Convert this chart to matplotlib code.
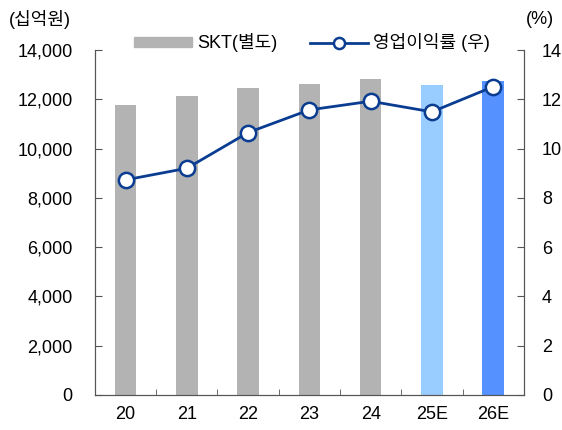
import matplotlib.pyplot as plt
from matplotlib.patches import Patch
from matplotlib.lines import Line2D

plt.rcParams['font.family'] = ['Liberation Sans', 'Noto Sans CJK KR']

years = ["20", "21", "22", "23", "24", "25E", "26E"]
sales = [11770, 12130, 12460, 12620, 12810, 12580, 12740]
margin = [8.73, 9.20, 10.65, 11.57, 11.92, 11.49, 12.51]
bar_colors = ["#b3b3b3"] * 5 + ["#99ccff", "#5592ff"]

fig = plt.figure(figsize=(5.62, 4.30), dpi=100)
ax = fig.add_axes([0.169, 0.0814, 0.763, 0.8023])
ax2 = ax.twinx()

x = range(len(years))
ax.bar(x, sales, width=0.35, color=bar_colors, zorder=2)
ax2.plot(x, margin, color="#0a3d91", lw=2, marker="o", ms=11,
         mfc="white", mec="#0a3d91", mew=1.8, zorder=3)

ax.set_xlim(-0.5, 6.5)
ax.set_ylim(0, 14000)
ax2.set_ylim(0, 14)
ax.set_yticks(range(0, 14001, 2000))
ax.set_yticklabels([f"{v:,}" for v in range(0, 14001, 2000)])
ax2.set_yticks(range(0, 15, 2))
ax.set_xticks(list(x))
ax.set_xticklabels(years)
ax.set_xticks([i + 0.5 for i in range(6)], minor=True)

for a in (ax, ax2):
    a.spines['top'].set_visible(False)
    for s in a.spines.values():
        s.set_color("#555555")
ax.tick_params(axis='y', direction='in', length=5, labelsize=13, pad=16, color="#555555")
ax2.tick_params(axis='y', direction='in', length=5, labelsize=13, pad=13, color="#555555")
ax.tick_params(axis='x', which='major', length=0, labelsize=13, pad=8)
ax.tick_params(axis='x', which='minor', direction='in', length=4, color="#555555")

fig.text(0.016, 0.955, "(십억원)", fontsize=13, ha='left', va='center')
fig.text(0.985, 0.955, "(%)", fontsize=13, ha='right', va='center')

handles = [Patch(color="#b3b3b3", label="SKT(별도)"),
           Line2D([], [], color="#0a3d91", lw=2, marker="o", ms=8, mfc="white",
                  mec="#0a3d91", mew=1.8, label="영업이익률 (우)")]
fig.legend(handles=handles, loc='center', bbox_to_anchor=(0.555, 0.9), ncol=2,
           frameon=False, fontsize=13, handlelength=3.2, handletextpad=0.3,
           columnspacing=1.8, handleheight=0.5)

fig.savefig("out.png", dpi=100)
